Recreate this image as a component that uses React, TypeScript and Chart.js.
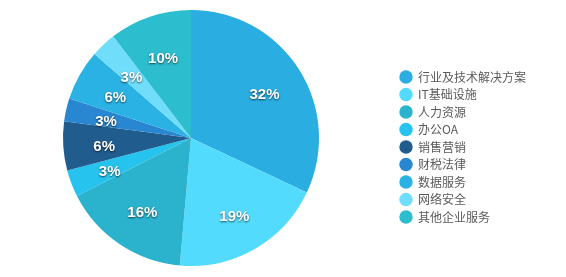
import React, { useEffect, useRef } from "react";
import { Chart, registerables } from "chart.js";

Chart.register(...registerables);

const categories = [
  "行业及技术解决方案",
  "IT基础设施",
  "人力资源",
  "办公OA",
  "销售营销",
  "财税法律",
  "数据服务",
  "网络安全",
  "其他企业服务",
];
const values = [32, 19.4, 16.1, 3.4, 6.2, 2.9, 6.4, 3.2, 10.4];
const colors = [
  "#2AADE0",
  "#52DBFD",
  "#2BB3CE",
  "#26C3EE",
  "#215C8E",
  "#2887D0",
  "#2AB2E5",
  "#70DDFB",
  "#2CBDCF",
];

const pctLabels = {
  id: "pctLabels",
  afterDatasetsDraw(chart: any) {
    const ctx = chart.ctx as CanvasRenderingContext2D;
    const meta = chart.getDatasetMeta(0);
    const data = chart.data.datasets[0].data as number[];
    const total = data.reduce((a, b) => a + b, 0);
    meta.data.forEach((arc: any, i: number) => {
      const p = arc.getProps(["x", "y", "startAngle", "endAngle", "outerRadius"], true);
      const mid = (p.startAngle + p.endAngle) / 2;
      const r = p.outerRadius * 0.68;
      const tx = p.x + Math.cos(mid) * r;
      const ty = p.y + Math.sin(mid) * r + 3;
      ctx.save();
      ctx.font = 'bold 15px "Liberation Sans", Arial, sans-serif';
      ctx.fillStyle = "#ffffff";
      ctx.shadowColor = "rgba(0,0,0,0.65)";
      ctx.shadowBlur = 2;
      ctx.shadowOffsetX = 0;
      ctx.shadowOffsetY = 1;
      ctx.textAlign = "center";
      ctx.textBaseline = "middle";
      ctx.fillText(Math.round((data[i] / total) * 100) + "%", tx, ty);
      ctx.restore();
    });
  },
};

export default function App() {
  const ref = useRef<HTMLCanvasElement | null>(null);
  useEffect(() => {
    if (!ref.current) return;
    const chart = new Chart(ref.current, {
      type: "pie",
      data: {
        labels: categories,
        datasets: [
          {
            data: values,
            backgroundColor: colors,
            borderWidth: 0,
          },
        ],
      },
      options: {
        animation: false,
        responsive: true,
        maintainAspectRatio: false,
        events: [],
        layout: { padding: { left: 0.5, right: 30, top: 10, bottom: 11 } },
        plugins: {
          tooltip: { enabled: false },
          legend: {
            position: "right",
            title: {
              display: true,
              text: "",
              padding: { top: 8, bottom: 0 },
              font: { size: 10, lineHeight: 1 },
            },
            labels: {
              usePointStyle: true,
              pointStyle: "circle",
              boxHeight: 9.5,
              padding: 5.5,
              color: "#5a5a5a",
              font: { size: 12, family: '"Noto Sans CJK SC", "Noto Sans", sans-serif' },
            },
          },
        },
      },
      plugins: [pctLabels],
    });
    return () => chart.destroy();
  }, []);
  return (
    <div style={{ position: "absolute", left: 0, top: 0, width: 566, height: 277, overflow: "hidden", background: "#fff" }}>
      <div style={{ position: "absolute", left: -13, top: 0, width: 579, height: 277 }}>
        <canvas ref={ref} />
      </div>
    </div>
  );
}
